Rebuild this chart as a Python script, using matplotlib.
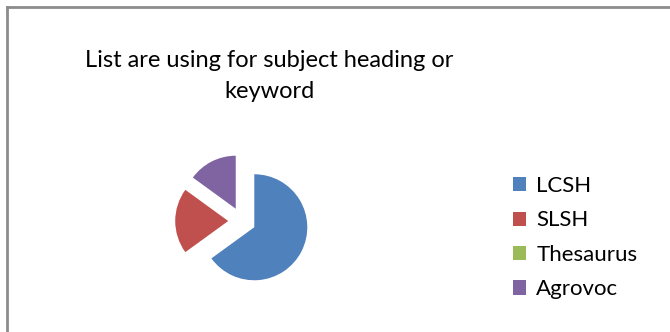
import matplotlib
matplotlib.use("Agg")
import matplotlib.pyplot as plt
from matplotlib.lines import Line2D

plt.rcParams['font.family'] = ['Lato', 'DejaVu Sans']

# sistemas de cabeçalho de assunto (percentual)
categorias = ["LCSH", "SLSH", "Thesaurus", "Agrovoc"]
valores = [65, 20, 0, 15]
cores = ["#4F81BD", "#C0504D", "#9BBB59", "#8064A2"]
titulo = "List are using for subject heading or\nkeyword"

W, H = 670, 332
fig = plt.figure(figsize=(W / 100, H / 100), dpi=100)

# moldura do gráfico (só esquerda e topo aparecem)
fig.add_artist(Line2D([6.5 / W, 6.5 / W], [0, 1 - 7 / H], color="#8c8c8c", lw=2))
fig.add_artist(Line2D([6.5 / W, 1], [1 - 7 / H, 1 - 7 / H], color="#8c8c8c", lw=2))

fig.text(269 / W, 1 - 76 / H, titulo, ha="center", va="center",
         fontsize=17, linespacing=1.55, color="black")

# eixo quadrado para a pizza
r = 53
cx, cy = 242, H - 221
ax = fig.add_axes([(cx - 2 * r) / W, (cy - 2 * r) / H, 4 * r / W, 4 * r / H])
fatias, _ = ax.pie(valores, colors=cores, startangle=90, counterclock=False,
                   explode=[0.26] * 4, radius=1)
ax.set_xlim(-2, 2)
ax.set_ylim(-2, 2)
ax.set_aspect("equal")
ax.axis("off")

fig.legend(fatias, categorias, loc="upper left",
           bbox_to_anchor=(513 / W, 1 - 176 / H), frameon=False,
           fontsize=16, handlelength=0.6, handleheight=0.6,
           handletextpad=0.45, labelspacing=0.65, borderpad=0, borderaxespad=0)

fig.savefig("out.png", dpi=100)
